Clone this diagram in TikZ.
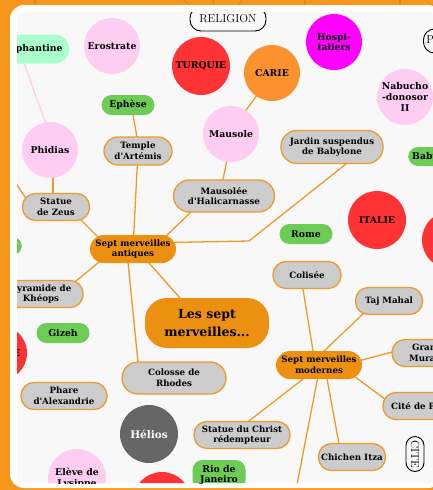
\documentclass[tikz,border=0pt]{standalone}
\usepackage{fontspec}
\newfontfamily\mmdvs{DejaVu Serif}
\usetikzlibrary{calc}
\pgfdeclarelayer{bg}
\pgfdeclarelayer{edges}
\pgfsetlayers{bg,edges,main}
\definecolor{bgorange}{HTML}{F7961C}
\definecolor{darkorange}{HTML}{E2880F}
\definecolor{innerc}{HTML}{F8F8F8}
\definecolor{ocol}{HTML}{EE9A2B}
\definecolor{orfill}{HTML}{EC9012}
\definecolor{gfill}{HTML}{CCCCCC}
\definecolor{grn}{HTML}{6CCC55}
\definecolor{pnk}{HTML}{FFCCF2}
\definecolor{rd}{HTML}{FF3333}
\definecolor{carie}{HTML}{FB912F}
\definecolor{mag}{HTML}{FF00FF}
\definecolor{mint}{HTML}{AAFFCC}
\definecolor{drk}{HTML}{666666}
\definecolor{pinkline}{HTML}{FFCCEE}
\newcommand\mmgfont{\mmdvs\bfseries\fontsize{8.7}{10.6}\selectfont}
\newcommand\mmcfont{\mmdvs\bfseries\fontsize{9.3}{10.8}\selectfont}
\newcommand\mmbfont{\mmdvs\bfseries\fontsize{12.5}{18}\selectfont}
\newcommand\mmlfont{\fontsize{11.5}{13}\selectfont}
\begin{document}
\begin{tikzpicture}[x=1pt,y=-1pt,
  gbox/.style={draw=ocol, line width=1.3pt, fill=gfill, rounded corners=13pt, inner sep=0pt, align=center, font=\mmgfont, minimum height=27},
  obox/.style={fill=orfill, rounded corners=14pt, inner sep=0pt, align=center, font=\mmgfont, minimum height=28},
  grbox/.style={fill=grn, rounded corners=10pt, inner sep=0pt, align=center, font=\mmcfont, minimum height=20},
  circ/.style={circle, inner sep=0pt, align=center, font=\mmcfont, minimum size=56},
  lbl/.style={draw=black, line width=0.9pt, fill=innerc, rounded corners=11pt, inner sep=0pt, font=\mmlfont},
  conn/.style={draw=ocol, line width=1.3pt},
  pconn/.style={draw=pinkline, line width=1.3pt},
  faint/.style={draw=darkorange, line width=1.2pt}
]
\useasboundingbox (0,0) rectangle (433,490);
\begin{pgfonlayer}{bg}
  \fill[bgorange] (0,0) rectangle (433,490);
  \draw[faint] (35,-2) -- (35,6);
  \draw[faint] (182,-2) -- (190,6);
  \draw[faint] (213,-2) -- (214,6);
  \draw[faint] (243,-2) -- (238,6);
  \draw[faint] (305,-2) -- (305,6);
  \draw[faint] (400,-2) -- (400,6);
  \fill[white, rounded corners=14pt] (10,5) rectangle (442,488);
  \fill[innerc, rounded corners=8pt] (17,12) rectangle (437,483);
\end{pgfonlayer}

\begin{scope}
\clip[rounded corners=8pt] (17,12) rectangle (437,483);
% labels
\node[lbl, minimum width=76, minimum height=24] (religion) at (228,19) {RELIGION};
\node[lbl, anchor=west, inner xsep=3pt, minimum height=24] (pe) at (423,41) {Personnages};
\node[lbl, rotate=-90, minimum width=35, minimum height=18, rounded corners=9pt] (cite) at (415,454) {CITE};
% circles
\node[circ, fill=pnk] (erostrate) at (112,46) {Erostrate};
\node[circ, fill=rd, minimum size=58] (turquie) at (201,66) {TURQUIE};
\node[circ, fill=carie] (carie) at (272,73) {CARIE};
\node[circ, fill=mag] (hosp) at (334,42) {Hospi-\\taliers};
\node[circ, fill=pnk] (nabu) at (405,97) {Nabucho\\-donosor\\II};
\node[circ, fill=pnk] (phidias) at (50,150) {Phidias};
\node[circ, fill=pnk] (mausole) at (231,134) {Mausole};
\node[circ, fill=rd, minimum size=58] (italie) at (377,220) {ITALIE};
\node[circ, fill=rd, minimum size=58] (redright) at (451,240) {};
\node[circ, fill=rd] (egypte) at (-1,353) {EGYPTE};
\node[circ, fill=drk, minimum size=58, text=white, font=\mmdvs\bfseries\fontsize{10.5}{12}\selectfont] (helios) at (149,434) {Hélios};
\node[circ, fill=pnk, minimum size=58] (eleve) at (77,478) {Elève de\\Lysippe};
\node[circ, fill=rd, minimum size=58] (grece) at (162,501) {};
% green
\node[fill=mint, rounded corners=14pt, inner sep=0pt, font=\mmcfont, minimum width=76, minimum height=29] (eleph) at (31,49) {Eléphantine};
\node[grbox, minimum width=53] (ephese) at (128,105) {Ephèse};
\node[grbox, anchor=west, inner xsep=4pt, minimum height=19] (babylone) at (408,156.5) {Babylone};
\node[grbox, anchor=east, minimum width=50, minimum height=19] (olympie) at (22,246) {};
\node[grbox, minimum width=53] (gizeh) at (63,333) {Gizeh};
\node[grbox, minimum width=53] (rome) at (306,234) {Rome};
\node[grbox, minimum width=53, minimum height=30] (rio) at (219,475) {Rio de\\Janeiro};
% grey
\node[gbox, minimum width=68, minimum height=28, rounded corners=14pt] (temple) at (138,151) {Temple\\d'Artémis};
\node[gbox, minimum width=102, minimum height=33, rounded corners=16pt] (jardin) at (332,147) {Jardin suspendus\\de Babylone};
\node[gbox, minimum width=67] (zeus) at (56,207) {Statue\\de Zeus};
\node[gbox, minimum width=101, minimum height=32, rounded corners=16pt] (mausolee) at (224,196) {Mausolée\\d'Halicarnasse};
\node[gbox, minimum width=84] (pyramide) at (41,294) {Pyramide de\\Khéops};
\node[gbox, minimum width=86] (phare) at (64,396) {Phare\\d'Alexandrie};
\node[gbox, minimum width=104, minimum height=32, rounded corners=16pt] (colosse) at (174,378) {Colosse de\\Rhodes};
\node[gbox, minimum width=68] (colisee) at (307,275) {Colisée};
\node[gbox, minimum width=67] (taj) at (389,301) {Taj Mahal};
\node[gbox, minimum width=76] (muraille) at (430,353) {Grande\\Muraille};
\node[gbox, minimum width=80] (petra) at (423,406) {Cité de Pétra};
\node[gbox, minimum width=96] (christ) at (242,435) {Statue du Christ\\rédempteur};
\node[gbox, minimum width=67] (chichen) at (352,457) {Chichen Itza};
% orange
\node[obox, minimum width=86] (antiques) at (133,249) {Sept merveilles\\antiques};
\node[obox, minimum width=86] (modernes) at (319,365) {Sept merveilles\\modernes};
\node[fill=orfill, rounded corners=22pt, inner sep=0pt, align=center, font=\mmbfont, minimum width=124, minimum height=50] (big) at (207,323) {Les sept\\merveilles...};
\end{scope}

\begin{pgfonlayer}{edges}
\begin{scope}
\clip[rounded corners=8pt] (17,12) rectangle (437,483);
\coordinate (zeusout) at (5,167);
\coordinate (kink) at (249,241);
\coordinate (modout) at (295,495);
\draw[pconn] ($(eleph)+(-7.7,12)$) -- ($(phidias)+(-3,-23)$);
\draw[conn] ($(ephese)+(4.5,7)$) -- ($(temple)+(-0.5,-11)$);
\draw[conn] (temple) -- (antiques);
\draw[conn] ($(phidias)+(3,25)$) -- ($(zeus)+(-3,-11)$);
\draw[conn] ($(zeus)+(-29,-7)$) -- (zeusout);
\draw[conn] ($(zeus)+(22,10)$) -- ($(antiques)+(-33,-10)$);
\draw[conn] ($(pyramide)+(32,-10.5)$) -- ($(antiques)+(-32,11.5)$);
\draw[conn] ($(antiques)+(14,11.7)$) -- ($(big)+(-24,-21.6)$);
\draw[conn] ($(antiques)+(-5.2,11)$) -- ($(colosse)+(-35.7,-13)$);
\draw[conn] ($(antiques)+(31,-11)$) -- ($(mausolee)+(-31,14)$);
\draw[conn] ($(mausolee)+(-1.7,-13)$) -- ($(mausole)+(-3,21)$);
\draw[conn] ($(mausole)+(13,-21)$) -- ($(carie)+(-14.5,21.5)$);
\draw[conn] ($(antiques)+(37,-6.5)$) -- (kink) -- ($(jardin)+(17,14.6)$);
\draw[conn] ($(modernes)+(-5.5,-11)$) -- ($(colisee)+(-4.5,11)$);
\draw[conn] ($(modernes)+(3,-12)$) -- ($(taj)+(-23,10)$);
\draw[conn] ($(modernes)+(39,-4)$) -- ($(muraille)+(-34,-2)$);
\draw[conn] ($(modernes)+(32,9)$) -- ($(petra)+(-34,-4)$);
\draw[conn] ($(modernes)+(7.5,11)$) -- ($(chichen)+(-12.4,-10)$);
\draw[conn] ($(modernes)+(-12,11)$) -- ($(christ)+(3,-11)$);
\draw[conn] ($(modernes)+(-1,11)$) -- (modout);
\end{scope}
\end{pgfonlayer}
\end{tikzpicture}
\end{document}
